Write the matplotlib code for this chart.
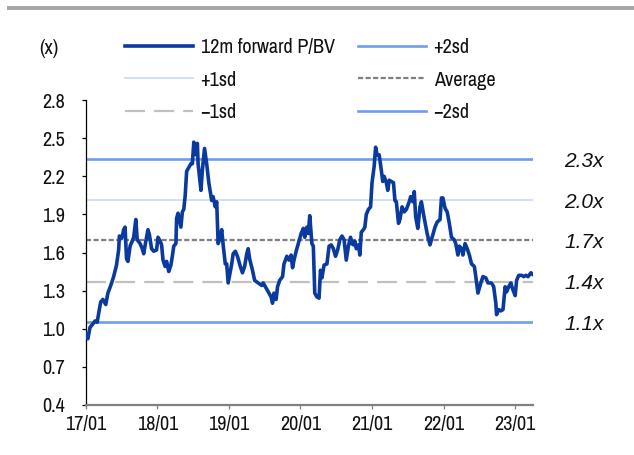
import matplotlib
matplotlib.use("Agg")
import matplotlib.pyplot as plt
from matplotlib.patches import Rectangle

plt.rcParams['font.family'] = ['Archivo Narrow', 'DejaVu Sans']

# decimal year, value
years = [2017.00, 2017.03, 2017.06, 2017.09, 2017.13, 2017.16, 2017.19, 2017.21, 2017.24, 2017.28,
         2017.31, 2017.35, 2017.39, 2017.43, 2017.46, 2017.47, 2017.50, 2017.52, 2017.53, 2017.55,
         2017.57, 2017.59, 2017.62, 2017.65, 2017.67, 2017.70, 2017.72, 2017.76, 2017.79, 2017.81,
         2017.84, 2017.87, 2017.89, 2017.92, 2017.95, 2017.99, 2018.01, 2018.04, 2018.06, 2018.08,
         2018.11, 2018.13, 2018.16, 2018.19, 2018.21, 2018.23, 2018.26, 2018.27, 2018.29, 2018.33,
         2018.35, 2018.37, 2018.39, 2018.41, 2018.44, 2018.47, 2018.49, 2018.51, 2018.54, 2018.56,
         2018.57, 2018.61, 2018.63, 2018.66, 2018.69, 2018.72, 2018.76, 2018.78, 2018.81, 2018.83,
         2018.85, 2018.88, 2018.90, 2018.92, 2018.95, 2018.97, 2018.99, 2019.02, 2019.04, 2019.06,
         2019.09, 2019.12, 2019.16, 2019.19, 2019.22, 2019.25, 2019.27, 2019.29, 2019.33, 2019.36,
         2019.41, 2019.46, 2019.48, 2019.51, 2019.55, 2019.59, 2019.61, 2019.63, 2019.66, 2019.68,
         2019.71, 2019.75, 2019.77, 2019.81, 2019.84, 2019.87, 2019.89, 2019.91, 2019.94, 2019.97,
         2020.01, 2020.04, 2020.06, 2020.09, 2020.11, 2020.13, 2020.16, 2020.18, 2020.20, 2020.23,
         2020.26, 2020.28, 2020.30, 2020.33, 2020.37, 2020.40, 2020.43, 2020.46, 2020.49, 2020.52,
         2020.55, 2020.58, 2020.61, 2020.64, 2020.67, 2020.70, 2020.72, 2020.74, 2020.76, 2020.78,
         2020.81, 2020.83, 2020.85, 2020.88, 2020.90, 2020.92, 2020.95, 2020.98, 2021.00, 2021.03,
         2021.05, 2021.07, 2021.10, 2021.12, 2021.15, 2021.17, 2021.20, 2021.22, 2021.24, 2021.27,
         2021.30, 2021.32, 2021.34, 2021.37, 2021.39, 2021.42, 2021.45, 2021.48, 2021.52, 2021.54,
         2021.57, 2021.59, 2021.61, 2021.64, 2021.67, 2021.69, 2021.72, 2021.74, 2021.77, 2021.81,
         2021.84, 2021.88, 2021.91, 2021.95, 2021.97, 2021.99, 2022.02, 2022.05, 2022.08, 2022.11,
         2022.15, 2022.17, 2022.20, 2022.22, 2022.25, 2022.27, 2022.30, 2022.33, 2022.36, 2022.39,
         2022.43, 2022.45, 2022.48, 2022.52, 2022.55, 2022.59, 2022.62, 2022.67, 2022.70, 2022.73,
         2022.74, 2022.77, 2022.80, 2022.83, 2022.86, 2022.88, 2022.91, 2022.94, 2022.96, 2023.00,
         2023.02, 2023.05, 2023.09, 2023.12, 2023.15, 2023.18, 2023.22, 2023.24]
pbv = [0.96, 0.92, 1.01, 1.03, 1.06, 1.05, 1.15, 1.21, 1.23, 1.19,
       1.28, 1.34, 1.41, 1.50, 1.62, 1.73, 1.71, 1.75, 1.78, 1.80,
       1.55, 1.53, 1.65, 1.69, 1.72, 1.86, 1.70, 1.67, 1.63, 1.59,
       1.69, 1.78, 1.74, 1.63, 1.61, 1.62, 1.72, 1.69, 1.66, 1.54,
       1.49, 1.53, 1.45, 1.50, 1.57, 1.65, 1.67, 1.87, 1.91, 1.80,
       1.92, 1.94, 2.05, 2.24, 2.27, 2.30, 2.30, 2.47, 2.37, 2.46,
       2.30, 2.09, 2.25, 2.42, 2.30, 2.15, 2.01, 2.04, 1.96, 2.00,
       1.67, 1.72, 1.78, 1.66, 1.51, 1.51, 1.36, 1.45, 1.51, 1.59,
       1.61, 1.57, 1.49, 1.44, 1.49, 1.59, 1.63, 1.55, 1.46, 1.38,
       1.36, 1.34, 1.36, 1.33, 1.29, 1.25, 1.20, 1.28, 1.23, 1.33,
       1.38, 1.41, 1.51, 1.57, 1.54, 1.58, 1.48, 1.54, 1.61, 1.67,
       1.75, 1.79, 1.72, 1.80, 1.75, 1.89, 1.67, 1.65, 1.28, 1.25,
       1.24, 1.46, 1.40, 1.50, 1.51, 1.65, 1.66, 1.63, 1.57, 1.62,
       1.70, 1.73, 1.70, 1.54, 1.65, 1.72, 1.67, 1.66, 1.69, 1.63,
       1.66, 1.58, 1.76, 1.78, 1.80, 1.90, 1.94, 1.96, 2.15, 2.28,
       2.43, 2.37, 2.37, 2.29, 2.16, 2.20, 2.15, 2.09, 2.17, 2.16,
       2.15, 2.01, 2.00, 1.83, 1.86, 1.96, 1.92, 1.94, 2.00, 2.04,
       2.00, 2.08, 1.88, 1.79, 1.96, 2.00, 1.90, 1.84, 1.75, 1.66,
       1.72, 1.80, 1.84, 1.86, 2.03, 2.03, 1.95, 1.92, 1.83, 1.72,
       1.70, 1.67, 1.58, 1.65, 1.63, 1.58, 1.67, 1.63, 1.58, 1.51,
       1.49, 1.41, 1.28, 1.36, 1.41, 1.40, 1.36, 1.36, 1.33, 1.20,
       1.11, 1.15, 1.14, 1.15, 1.33, 1.29, 1.33, 1.36, 1.32, 1.26,
       1.38, 1.42, 1.42, 1.41, 1.42, 1.41, 1.44, 1.43]

band_names = ['+2sd', '+1sd', 'Average', '\u22121sd', '\u22122sd']
band_values = [2.335, 2.016, 1.698, 1.370, 1.052]
band_labels = ['2.3x', '2.0x', '1.7x', '1.4x', '1.1x']

tick_years = [2017, 2018, 2019, 2020, 2021, 2022, 2023]
tick_labels = ['17/01', '18/01', '19/01', '20/01', '21/01', '22/01', '23/01']
y_ticks = [0.4, 0.7, 1.0, 1.3, 1.6, 1.9, 2.2, 2.5, 2.8]

x_min, x_max = 2017.0, 2023.243
FS = 14.5

band_styles = {
    '+2sd': dict(color='#6F9DEE', lw=1.9, ls='-'),
    '+1sd': dict(color='#C9D9F6', lw=1.2, ls='-'),
    'Average': dict(color='#7F7F7F', lw=1.6, ls=(0, (2.3, 1.1))),
    '\u22121sd': dict(color='#C0C0C0', lw=1.6, ls=(0, (9, 4.1))),
    '\u22122sd': dict(color='#6F9DEE', lw=1.9, ls='-'),
}

fig = plt.figure(figsize=(6.34, 4.55), dpi=100)
ax = fig.add_axes([0.1352, 0.1105, 0.7048, 0.6691])

handles = {}
for name, val in zip(band_names, band_values):
    h, = ax.plot([x_min, x_max], [val, val], **band_styles[name], label=name, zorder=2)
    handles[name] = h
main, = ax.plot(years, pbv, color='#0A3A9E', lw=2.6, label='12m forward P/BV', zorder=3,
                solid_joinstyle='round')

ax.set_xlim(x_min, x_max)
ax.set_ylim(0.4, 2.8)
ax.set_xticks(tick_years)
ax.set_xticklabels(tick_labels)
ax.set_yticks(y_ticks)
ax.set_yticklabels([f'{v:.1f}' for v in y_ticks])

for s in ['top', 'right']:
    ax.spines[s].set_visible(False)
ax.spines['left'].set_color('black')
ax.spines['left'].set_linewidth(0.9)
ax.spines['bottom'].set_color('#808080')
ax.spines['bottom'].set_linewidth(1.6)
ax.tick_params(axis='y', length=3.0, width=0.9, color='black', pad=12, labelsize=FS, labelcolor='#111111')
ax.tick_params(axis='x', length=3.0, width=0.9, color='#808080', pad=4.5, labelsize=FS, labelcolor='#111111')

for val, lab in zip(band_values, band_labels):
    fig.text(604 / 634, ax.transData.transform((0, val))[1] / 455 - 0.005, lab,
             ha='right', va='center', fontsize=15, style='italic',
             family=['Liberation Sans', 'DejaVu Sans'], color='#111111')

legend_kw = dict(loc='center left', frameon=False, fontsize=FS, handlelength=3.38,
                 handletextpad=0.37, labelspacing=0.68, borderaxespad=0, borderpad=0)
col1 = [main, handles['+1sd'], handles['\u22121sd']]
col2 = [handles['+2sd'], handles['Average'], handles['\u22122sd']]
leg1 = fig.legend(handles=col1, labels=[h.get_label() for h in col1],
                  bbox_to_anchor=(125 / 634, 1 - 80 / 455), **legend_kw)
leg2 = fig.legend(handles=col2, labels=[h.get_label() for h in col2],
                  bbox_to_anchor=(358 / 634, 1 - 80 / 455), **legend_kw)
for leg in (leg1, leg2):
    for t in leg.get_texts():
        t.set_color('#111111')

fig.text(49 / 634, 1 - 48 / 455, '(x)', ha='center', va='center', fontsize=FS, color='#111111')

fig.add_artist(Rectangle((7 / 634, 1 - 9.5 / 455), 627 / 634, 3.5 / 455, transform=fig.transFigure,
                         facecolor='#A6A6A6', edgecolor='none'))

fig.savefig('out.png', dpi=100)
